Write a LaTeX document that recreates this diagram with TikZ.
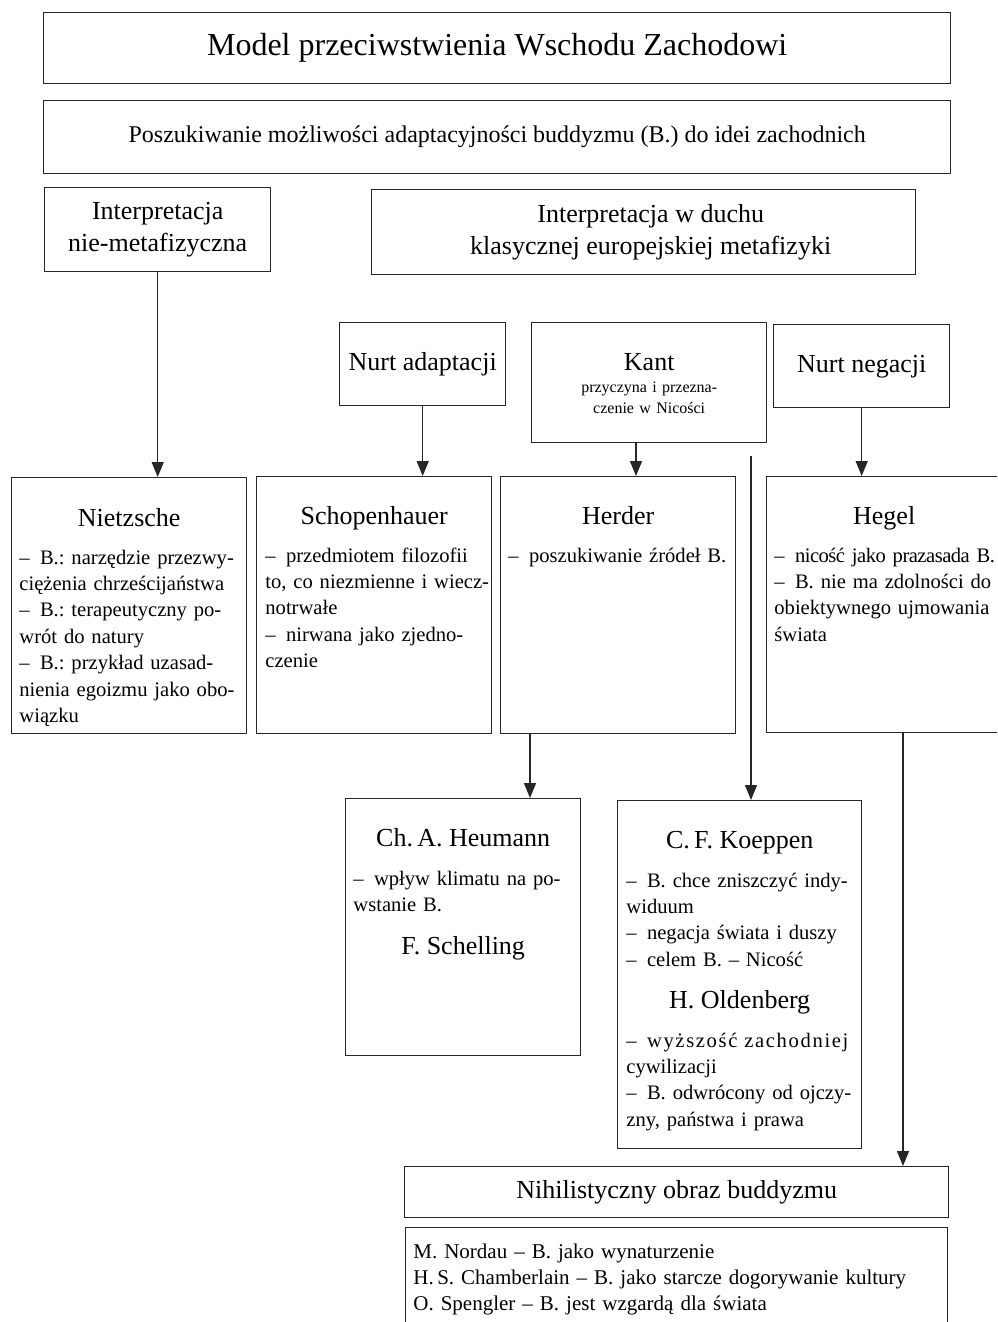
\documentclass[tikz,border=0pt]{standalone}
\usepackage{fontspec}
\setmainfont{Liberation Serif}
\usetikzlibrary{arrows.meta}
\frenchspacing

\newcommand{\jl}[1]{\makebox[\linewidth][s]{#1}}

\tikzset{
  frame/.style={draw=black!85, line width=0.7pt, inner sep=0pt, anchor=north west, align=center},
  head/.style={font=\fontsize{13}{16}\selectfont, inner sep=0pt, anchor=base},
  body/.style={font=\fontsize{10.3}{13.2}\selectfont, inner sep=0pt, anchor=base west, text width=109pt, align=left},
  arr/.style={draw=black!85, line width=0.7pt, -{Triangle[width=6pt,length=7.5pt]}},
}

\begin{document}
\begin{tikzpicture}[x=0.5pt, y=-0.5pt]
\useasboundingbox (0,0) rectangle (997,1322);
\clip (0,0) rectangle (997,1322);

% boxes
\node[frame, minimum width=453.5pt, minimum height=35.5pt, font=\fontsize{16}{19}\selectfont] (title) at (43,12) {Model przeciwstwienia Wschodu Zachodowi};
\node[frame, minimum width=453.5pt, minimum height=36.5pt, font=\fontsize{12}{14}\selectfont] (quest) at (43,100) {Poszukiwanie możliwości adaptacyjności buddyzmu (B.) do idei zachodnich};

\node[frame, minimum width=113pt, minimum height=42pt, font=\fontsize{13}{16}\selectfont] (nonmeta) at (44,187) {Interpretacja\\nie-metafizyczna};
\node[frame, minimum width=272pt, minimum height=42.5pt, font=\fontsize{13}{16}\selectfont] (meta) at (371,189) {\hspace{7pt}Interpretacja w duchu\\\hspace{7pt}klasycznej europejskiej metafizyki};

\node[frame, minimum width=83pt, minimum height=41.5pt, font=\fontsize{13}{16}\selectfont] (adapt) at (339,322) {Nurt adaptacji};
\node[frame, minimum width=117.5pt, minimum height=60pt] (kant) at (531,322) {};
\node[frame, minimum width=88pt, minimum height=41.5pt, font=\fontsize{13}{16}\selectfont] (negat) at (773,324) {Nurt negacji};

\node[frame, minimum width=117.5pt, minimum height=128pt] (nietzsche) at (11,477) {};
\node[frame, minimum width=117.5pt, minimum height=128.5pt] (schop) at (256,476) {};
\node[frame, minimum width=117.5pt, minimum height=128.5pt] (herder) at (500,476) {};
\node[frame, minimum width=117.5pt, minimum height=128pt] (hegel) at (766,476) {};

\node[frame, minimum width=117.5pt, minimum height=128.5pt] (heumann) at (345,798) {};
\node[frame, minimum width=122pt, minimum height=174pt] (koeppen) at (617,800) {};

\node[frame, minimum width=272pt, minimum height=25.5pt, font=\fontsize{13}{16}\selectfont] (nihil) at (404,1166) {Nihilistyczny obraz buddyzmu};
\node[frame, minimum width=271pt, minimum height=60pt] (authors) at (405,1227) {};

% texts
\node[head] (kant-h) at ([yshift=-24pt]kant.north) {Kant};
\node[inner sep=0pt, anchor=base, text width=110pt, align=center, font=\fontsize{8}{10.5}\selectfont] (kant-t) at ([yshift=-35pt]kant.north) {przyczyna i przezna-\\czenie w Nicości};

\node[head] (nietzsche-h) at ([yshift=-24.5pt]nietzsche.north) {Nietzsche};
\node[body] (nietzsche-t) at ([xshift=4pt,yshift=-43.5pt]nietzsche.north west) {%
\jl{–\enspace B.: narzędzie przezwy-}\\
\jl{ciężenia chrześcijaństwa}\\
\jl{–\enspace B.: terapeutyczny po-}\\
wrót do natury\\
\jl{–\enspace B.: przykład uzasad-}\\
\jl{nienia egoizmu jako obo-}\\
wiązku};

\node[head] (schop-h) at ([yshift=-24pt]schop.north) {Schopenhauer};
\node[body] (schop-t) at ([xshift=4.5pt,yshift=-43pt]schop.north west) {%
\jl{–\enspace przedmiotem filozofii}\\
\jl{to, co niezmienne i wiecz-}\\
notrwałe\\
\jl{–\enspace nirwana jako zjedno-}\\
czenie};

\node[head] (herder-h) at ([yshift=-24pt]herder.north) {Herder};
\node[body] (herder-t) at ([xshift=4pt,yshift=-43pt]herder.north west) {\jl{–\enspace poszukiwanie źródeł B.}};

\node[head] (hegel-h) at ([yshift=-24pt]hegel.north) {Hegel};
\node[body] (hegel-t) at ([xshift=4pt,yshift=-43pt]hegel.north west) {%
\jl{\addfontfeature{LetterSpace=-2.5}–\enspace nicość jako prazasada B.}\\
\jl{–\enspace B. nie ma zdolności do}\\
\jl{obiektywnego ujmowania}\\
świata};

\node[head] (heumann-h) at ([yshift=-24pt]heumann.north) {Ch.\,A. Heumann};
\node[body] (heumann-t) at ([xshift=4pt,yshift=-43.5pt]heumann.north west) {%
\jl{–\enspace wpływ klimatu na po-}\\
wstanie B.};
\node[head] (schelling-h) at ([yshift=-78pt]heumann.north) {F. Schelling};

\node[head] (koeppen-h) at ([yshift=-24pt]koeppen.north) {C.\,F. Koeppen};
\node[body, text width=112.5pt] (koeppen-t) at ([xshift=4.5pt,yshift=-43.5pt]koeppen.north west) {%
\jl{–\enspace B. chce zniszczyć indy-}\\
widuum\\
–\enspace negacja świata i duszy\\
–\enspace celem B. – Nicość};
\node[head] (oldenberg-h) at ([yshift=-104pt]koeppen.north) {H. Oldenberg};
\node[body, text width=112.5pt] (oldenberg-t) at ([xshift=4.5pt,yshift=-123.5pt]koeppen.north west) {%
\jl{\addfontfeature{LetterSpace=8}–\enspace wyższość zachodniej}\\
cywilizacji\\
\jl{–\enspace B. odwrócony od ojczy-}\\
zny, państwa i prawa};

\node[body, text width=260pt, font=\fontsize{10.5}{13}\selectfont] (authors-t) at ([xshift=4pt,yshift=-15.5pt]authors.north west) {%
M. Nordau – B. jako wynaturzenie\\
H.\,S. Chamberlain – B. jako starcze dogorywanie kultury\\
O. Spengler – B. jest wzgardą dla świata};

% arrows
\coordinate (kant-out) at ([xshift=52.5pt]kant.south west);
\coordinate (herder-out) at ([xshift=15pt]herder.south west);
\coordinate (hegel-out) at ([xshift=68.5pt]hegel.south west);
\coordinate (split) at (751,456);

\draw[arr] (nonmeta.south) -- (nonmeta.south |- nietzsche.north);
\draw[arr] (adapt.south) -- (adapt.south |- schop.north);
\draw[arr] (kant-out) -- (kant-out |- herder.north);
\draw[arr] (negat.south) -- (negat.south |- hegel.north);
\draw[arr] (split) -- (split |- koeppen.north);
\draw[arr] (herder-out) -- (herder-out |- heumann.north);
\draw[arr] (hegel-out) -- (hegel-out |- nihil.north);

\end{tikzpicture}
\end{document}
